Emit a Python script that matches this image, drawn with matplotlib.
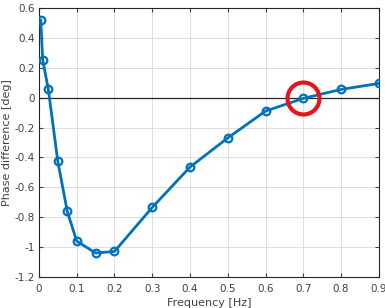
import matplotlib
matplotlib.use("Agg")
import matplotlib.pyplot as plt

freq = [0.005, 0.01, 0.025, 0.05, 0.075, 0.1, 0.15, 0.2, 0.3, 0.4, 0.5, 0.6, 0.7, 0.8, 0.9]
phase = [0.52, 0.255, 0.055, -0.425, -0.76, -0.96, -1.04, -1.03, -0.735, -0.465, -0.27, -0.09, -0.005, 0.055, 0.095]
mark_x, mark_y = 0.7, 0.0

fig = plt.figure(figsize=(3.85, 3.08), dpi=100)
ax = fig.add_axes([0.101, 0.101, 0.883, 0.873])

blue = '#0072BD'
ax.axhline(0, color='#262626', linewidth=0.9, zorder=2)
ax.plot(freq, phase, '-o', color=blue, linewidth=2, markersize=5.5,
        markerfacecolor='none', markeredgewidth=1.6, zorder=3)
ax.plot([mark_x], [mark_y], 'o', markersize=23, markerfacecolor='none',
        markeredgecolor='#E8141B', markeredgewidth=3, zorder=4)

ax.set_xlim(0, 0.9)
ax.set_ylim(-1.2, 0.6)
ax.set_xticks([0, 0.1, 0.2, 0.3, 0.4, 0.5, 0.6, 0.7, 0.8, 0.9])
ax.set_xticklabels(['0', '0.1', '0.2', '0.3', '0.4', '0.5', '0.6', '0.7', '0.8', '0.9'])
ax.set_yticks([-1.2, -1, -0.8, -0.6, -0.4, -0.2, 0, 0.2, 0.4, 0.6])
ax.set_yticklabels(['-1.2', '-1', '-0.8', '-0.6', '-0.4', '-0.2', '0', '0.2', '0.4', '0.6'])
ax.grid(True, color='#DFDFDF', linewidth=0.7)
ax.set_axisbelow(True)
ax.tick_params(labelsize=7.5, colors='#404040', direction='in', length=3,
               top=True, right=True, pad=3)
ax.tick_params(axis='x', pad=5)
for s in ax.spines.values():
    s.set_color('#262626')
    s.set_linewidth(0.8)

ax.set_xlabel('Frequency [Hz]', fontsize=8, color='#404040', labelpad=3)
ax.set_ylabel('Phase difference [deg]', fontsize=8, color='#404040', labelpad=2)

fig.savefig('out.png', dpi=100)
